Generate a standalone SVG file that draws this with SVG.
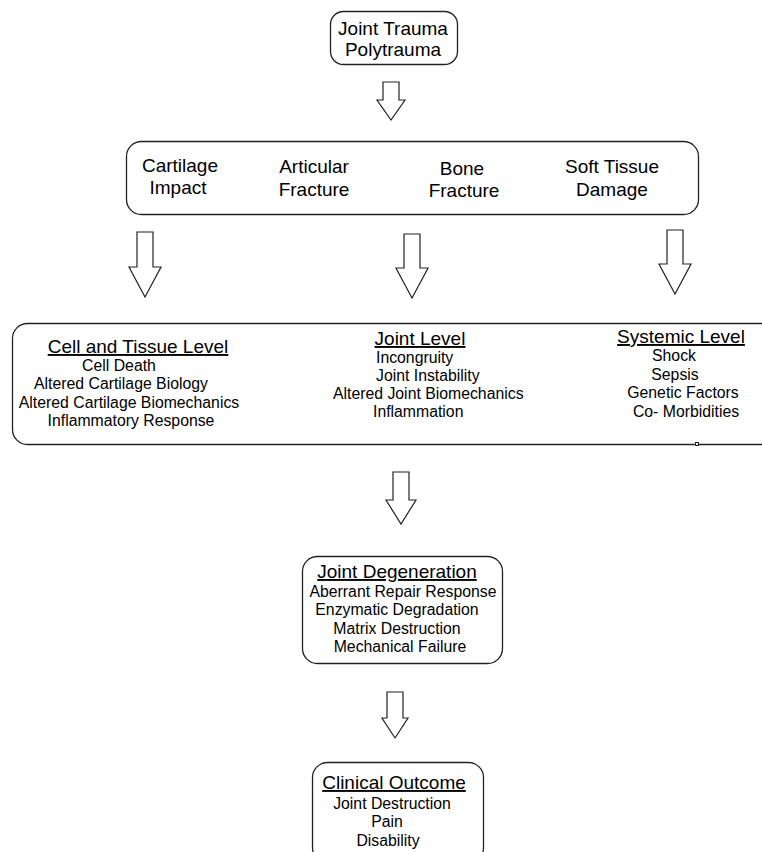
<svg xmlns="http://www.w3.org/2000/svg" width="762" height="852" viewBox="0 0 762 852">
<style>
.box{fill:#fff;stroke:#222;stroke-width:1.3}
.arr{fill:#fff;stroke:#222;stroke-width:1.2;stroke-linejoin:miter}
text{font-family:"Liberation Sans",Arial,sans-serif;fill:#000}
.big{font-size:19px}
.hd{font-size:19px;text-decoration:underline}
.it{font-size:15.8px}
.m{text-anchor:middle}
</style>
<rect width="762" height="852" fill="#fff"/>
<g id="trauma">
<rect class="box" x="330.5" y="11.5" width="127" height="53" rx="13"/>
<text class="big m" x="393" y="35">Joint Trauma</text>
<text class="big m" x="393" y="56">Polytrauma</text>
</g>
<g id="injuries">
<rect class="box" x="126.5" y="141.5" width="572" height="73" rx="15"/>
<text class="big m" x="180" y="172">Cartilage</text>
<text class="big m" x="178" y="194">Impact</text>
<text class="big m" x="314" y="173">Articular</text>
<text class="big m" x="314" y="196">Fracture</text>
<text class="big m" x="462" y="175">Bone</text>
<text class="big m" x="464" y="197">Fracture</text>
<text class="big m" x="612" y="173">Soft Tissue</text>
<text class="big m" x="612" y="196">Damage</text>
</g>
<g id="levels">
<path class="box" d="M762,323.5 H27.5 A15,15 0 0 0 12.5,338.5 V429.5 A15,15 0 0 0 27.5,444.5 H762"/>
<rect x="695.5" y="442.5" width="3" height="3" fill="#fff" stroke="#222" stroke-width="1"/>
<text class="hd m" x="138" y="353">Cell and Tissue Level</text>
<text class="it m" x="119" y="371">Cell Death</text>
<text class="it m" x="121" y="389">Altered Cartilage Biology</text>
<text class="it m" x="129" y="408">Altered Cartilage Biomechanics</text>
<text class="it m" x="131" y="426">Inflammatory Response</text>
<text class="hd m" x="420" y="345">Joint Level</text>
<text class="it" x="376" y="363">Incongruity</text>
<text class="it" x="376" y="381">Joint Instability</text>
<text class="it" x="333" y="399">Altered Joint Biomechanics</text>
<text class="it" x="373" y="417">Inflammation</text>
<text class="hd m" x="681" y="343">Systemic Level</text>
<text class="it m" x="674" y="361">Shock</text>
<text class="it m" x="675" y="380">Sepsis</text>
<text class="it m" x="683" y="398">Genetic Factors</text>
<text class="it m" x="686" y="417">Co- Morbidities</text>
</g>
<g id="degeneration">
<rect class="box" x="302.5" y="556.5" width="200" height="107" rx="15"/>
<text class="hd m" x="397" y="578">Joint Degeneration</text>
<text class="it m" x="403" y="597">Aberrant Repair Response</text>
<text class="it m" x="397" y="615">Enzymatic Degradation</text>
<text class="it m" x="397" y="634">Matrix Destruction</text>
<text class="it m" x="400" y="652">Mechanical Failure</text>
</g>
<g id="outcome">
<rect class="box" x="312.5" y="762.5" width="171" height="100" rx="15"/>
<text class="hd m" x="394" y="789">Clinical Outcome</text>
<text class="it m" x="392" y="809">Joint Destruction</text>
<text class="it m" x="387" y="827">Pain</text>
<text class="it m" x="388" y="846">Disability</text>
</g>
<g id="connectors">
<path class="arr" d="M383,82 H399 V100 H405 L391,120 L377,100 H383 Z"/>
<path class="arr" d="M137,232 H153 V267 H161 L145,297 L129,267 H137 Z"/>
<path class="arr" d="M404,234 H420 V268 H428 L412,298 L396,268 H404 Z"/>
<path class="arr" d="M667,230 H683 V264 H691 L675,294 L659,264 H667 Z"/>
<path class="arr" d="M393,472 H409 V500 H416 L401,524 L386,500 H393 Z"/>
<path class="arr" d="M387,692 H403 V718 H408 L395,738 L382,718 H387 Z"/>
</g>
</svg>
